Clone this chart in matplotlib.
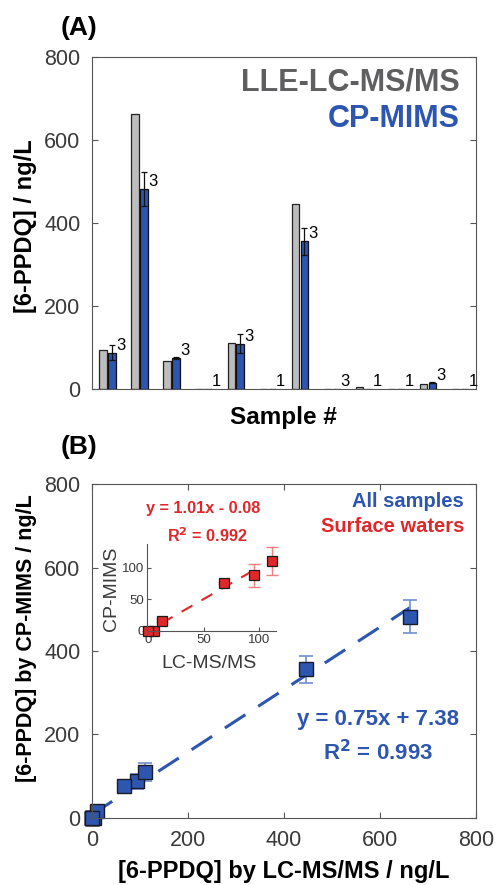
import numpy as np
import matplotlib
matplotlib.use("Agg")
import matplotlib.pyplot as plt

plt.rcParams['font.family'] = ['Liberation Sans', 'DejaVu Sans']

# datos
samples = np.arange(1, 13)
lcms = [95, 662, 68, 0, 111, 0, 446, 1, 5, 0, 12, 0]
mims = [88, 482, 76, 0, 110, 0, 356, 0, 0, 0, 16, 0]
mims_err = [18, 40, 2, 0, 22, 0, 33, 0, 0, 0, 2, 0]
n_rep = [3, 3, 3, 1, 3, 1, 3, 3, 1, 1, 3, 1]
surface = [0, 2, 4, 8, 9, 10]   # indices de aguas superficiales

fit_all = (0.75, 7.38)
fit_surf = (1.01, -0.08)

blue = '#2d56b0'
gray_txt = '#5f5f61'
red = '#e0282a'
tick_col = '#3a3a3a'
spine_col = '#555555'

lc = np.array(lcms, dtype=float)
cp = np.array(mims, dtype=float)
err = np.array(mims_err, dtype=float)

fig = plt.figure(figsize=(4.95, 8.85), dpi=100)

# ---------- (A) barras ----------
ax = fig.add_axes([0.1853, 0.5601, 0.7764, 0.3758])
w = 0.24
ax.bar(samples - 0.14, lc, w, color='#bdbdbd', edgecolor='#222222', linewidth=0.9)
ax.bar(samples + 0.14, cp, w, color=blue, edgecolor='#111111', linewidth=0.9)
m = err > 0
ax.errorbar(samples[m] + 0.14, cp[m], yerr=err[m], fmt='none', ecolor='#111111',
            elinewidth=0.9, capsize=2.5, capthick=0.9)
for i in range(len(samples)):
    ax.text(samples[i] + 0.26, cp[i], str(n_rep[i]), ha='left', va='bottom',
            fontsize=12, color='black')
ax.set_xlim(0.5, 12.5)
ax.set_ylim(0, 800)
ax.set_yticks([0, 200, 400, 600, 800])
ax.set_xticks([])
ax.tick_params(axis='y', direction='in', right=True, labelsize=15.5,
               labelcolor=tick_col, color=spine_col, length=4, pad=8)
for s in ax.spines.values():
    s.set_color(spine_col)
ax.set_ylabel('[6-PPDQ] / ng/L', fontsize=17, fontweight='bold')
ax.yaxis.set_label_coords(-0.142, 0.491)
ax.set_xlabel('Sample #', fontsize=17.5, fontweight='bold')
ax.xaxis.set_label_coords(0.498, -0.050)
ax.text(0.958, 0.922, 'LLE-LC-MS/MS', transform=ax.transAxes, ha='right', va='center',
        fontsize=22, fontweight='bold', color=gray_txt)
ax.text(0.958, 0.813, 'CP-MIMS', transform=ax.transAxes, ha='right', va='center',
        fontsize=22, fontweight='bold', color=blue)
fig.text(0.123, 0.968, '(A)', ha='left', va='center', fontsize=19, fontweight='bold')

# ---------- (B) correlacion ----------
bx = fig.add_axes([0.1853, 0.0760, 0.7764, 0.3768])
xf = np.linspace(0, lc.max(), 50)
bx.plot(xf, fit_all[0] * xf + fit_all[1], color=blue, lw=2.2, dashes=(8, 5))
bx.errorbar(lc, cp, yerr=err, fmt='none', ecolor='#6f8fd0', elinewidth=1.2,
            capsize=5, capthick=1.2, clip_on=False)
bx.plot(lc, cp, 's', ms=10, mfc=blue, mec='#1a1a2a', mew=1.0, ls='none', clip_on=False)
bx.set_xlim(0, 800)
bx.set_ylim(0, 800)
bx.set_xticks([0, 200, 400, 600, 800])
bx.set_yticks([0, 200, 400, 600, 800])
bx.tick_params(direction='in', top=True, right=True, labelsize=15.5,
               labelcolor=tick_col, color=spine_col, length=4)
bx.tick_params(axis='x', pad=9)
bx.tick_params(axis='y', pad=8)
for s in bx.spines.values():
    s.set_color(spine_col)
bx.set_xlabel('[6-PPDQ] by LC-MS/MS / ng/L', fontsize=17, fontweight='bold')
bx.xaxis.set_label_coords(0.5, -0.128)
bx.set_ylabel('[6-PPDQ] by CP-MIMS / ng/L', fontsize=15.5, fontweight='bold')
bx.yaxis.set_label_coords(-0.142, 0.539)
bx.text(0.969, 0.947, 'All samples', transform=bx.transAxes, ha='right', va='center',
        fontsize=14.5, fontweight='bold', color=blue)
bx.text(0.969, 0.872, 'Surface waters', transform=bx.transAxes, ha='right', va='center',
        fontsize=14.5, fontweight='bold', color=red)
bx.text(0.745, 0.296, 'y = %.2fx + %.2f' % fit_all, transform=bx.transAxes,
        ha='center', va='center', fontsize=16, fontweight='bold', color=blue)
bx.text(0.745, 0.194, 'R$^{\\mathbf{2}}$ = 0.993', transform=bx.transAxes,
        ha='center', va='center', fontsize=16, fontweight='bold', color=blue)
bx.text(0.29, 0.926, 'y = %.2fx - %.2f' % (fit_surf[0], -fit_surf[1]), transform=bx.transAxes,
        ha='center', va='center', fontsize=11.7, fontweight='bold', color=red)
bx.text(0.30, 0.845, 'R$^{\\mathbf{2}}$ = 0.992', transform=bx.transAxes,
        ha='center', va='center', fontsize=11.7, fontweight='bold', color=red)
fig.text(0.123, 0.495, '(B)', ha='left', va='center', fontsize=19, fontweight='bold')

# ---------- recuadro ----------
ix = fig.add_axes([0.2976, 0.2873, 0.26, 0.0977])
xs = lc[surface]
ys = cp[surface]
es = err[surface]
xi = np.linspace(12, 100, 30)
ix.plot(xi, fit_surf[0] * xi + fit_surf[1], color=red, lw=1.5, dashes=(6, 5))
ix.errorbar(xs, ys, yerr=es, fmt='none', ecolor='#ee8080', elinewidth=1.0,
            capsize=4, capthick=1.0, clip_on=False)
ix.plot(xs, ys, 's', ms=6.5, mfc=red, mec='#1a1a1a', mew=0.9, ls='none', clip_on=False)
ix.set_xlim(-1, 115)
ix.set_ylim(0, 137)
ix.set_xticks([0, 50, 100])
ix.set_yticks([0, 50, 100])
ix.spines['top'].set_visible(False)
ix.spines['right'].set_visible(False)
for s in ['left', 'bottom']:
    ix.spines[s].set_color(spine_col)
ix.patch.set_alpha(0)
ix.tick_params(direction='in', labelsize=9.5, labelcolor=tick_col, color=spine_col,
               length=3, pad=2)
ix.set_ylabel('CP-MIMS', fontsize=14, color=tick_col)
ix.yaxis.set_label_coords(-0.212, 0.48)
ix.set_xlabel('LC-MS/MS', fontsize=14, color=tick_col)
ix.xaxis.set_label_coords(0.48, -0.28)

fig.savefig('out.png', dpi=100)
